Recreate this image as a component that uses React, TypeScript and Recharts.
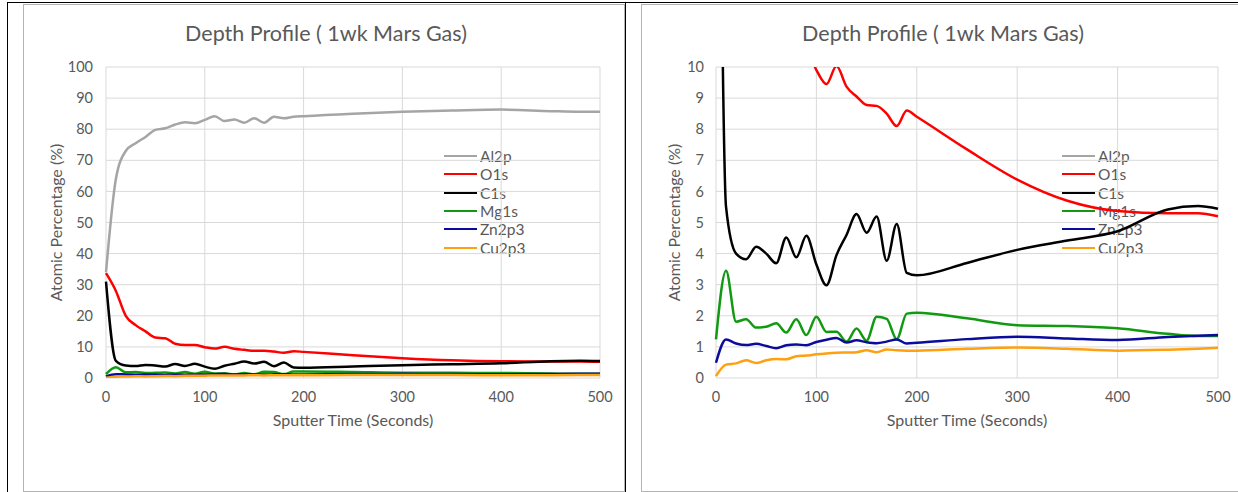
import React from 'react';
import { LineChart, Line, XAxis, YAxis, CartesianGrid, Legend } from 'recharts';

const FONT = 'Lato, "Open Sans", sans-serif';
const TEXT = '#595959';

const times = [0, 10, 20, 30, 40, 50, 60, 70, 80, 90, 100, 110, 120, 130, 140, 150, 160, 170, 180, 190, 200, 250, 300, 350, 400, 450, 480, 500];
const al2p = [34, 64, 73, 75.5, 77.5, 79.8, 80.3, 81.5, 82.2, 81.9, 83, 84.2, 82.6, 83.1, 82.1, 83.5, 82.1, 84, 83.5, 84, 84.2, 85, 85.6, 86, 86.3, 85.8, 85.6, 85.6];
const o1s = [33.7, 28, 20, 17, 15, 13, 12.8, 11, 10.6, 10.6, 9.9, 9.45, 10.03, 9.37, 9.05, 8.78, 8.75, 8.5, 8.1, 8.6, 8.4, 7.35, 6.38, 5.7, 5.37, 5.3, 5.3, 5.2];
const c1s = [31, 5.5, 4.0, 3.82, 4.22, 4.0, 3.69, 4.52, 3.88, 4.57, 3.65, 2.98, 3.95, 4.6, 5.27, 4.67, 5.19, 3.77, 4.95, 3.38, 3.3, 3.7, 4.12, 4.42, 4.72, 5.42, 5.53, 5.44];
const mg1s = [1.24, 3.45, 1.81, 1.89, 1.62, 1.65, 1.76, 1.46, 1.89, 1.38, 1.97, 1.48, 1.49, 1.17, 1.59, 1.2, 1.97, 1.9, 1.25, 2.07, 2.1, 1.92, 1.7, 1.67, 1.6, 1.42, 1.35, 1.35];
const zn2p3 = [0.49, 1.24, 1.11, 1.06, 1.1, 1.03, 0.96, 1.05, 1.08, 1.05, 1.16, 1.23, 1.29, 1.14, 1.21, 1.15, 1.12, 1.17, 1.24, 1.11, 1.13, 1.25, 1.33, 1.27, 1.22, 1.32, 1.36, 1.38];
const cu2p3 = [0.06, 0.43, 0.47, 0.57, 0.48, 0.57, 0.61, 0.6, 0.7, 0.72, 0.76, 0.79, 0.81, 0.82, 0.83, 0.89, 0.83, 0.92, 0.89, 0.88, 0.88, 0.94, 0.98, 0.94, 0.88, 0.91, 0.94, 0.97];

const seriesNames = ['Al2p', 'O1s', 'C1s', 'Mg1s', 'Zn2p3', 'Cu2p3'];
const seriesColors = ['#a5a5a5', '#ff0000', '#000000', '#119a11', '#0c0c9c', '#ffa010'];
const seriesValues = [al2p, o1s, c1s, mg1s, zn2p3, cu2p3];

const xTicks = [0, 100, 200, 300, 400, 500];
const leftYTicks = [0, 10, 20, 30, 40, 50, 60, 70, 80, 90, 100];
const rightYTicks = [0, 1, 2, 3, 4, 5, 6, 7, 8, 9, 10];

const titleText = 'Depth Profile ( 1wk Mars Gas)';
const xTitle = 'Sputter Time (Seconds)';
const yTitle = 'Atomic Percentage (%)';

const data = times.map((t, i) => {
  const row: Record<string, number> = { t };
  seriesNames.forEach((n, k) => {
    row[n] = seriesValues[k][i];
  });
  return row;
});

const LegendBox = () => (
  <div style={{ fontFamily: FONT, fontSize: 15.5, color: TEXT }}>
    {seriesNames.map((n, i) => (
      <div key={n} style={{ display: 'flex', alignItems: 'center', height: 18.3 }}>
        <div style={{ width: 33, height: 0, borderTop: `2.5px solid ${seriesColors[i]}`, marginRight: 3 }} />
        <span style={{ lineHeight: '18px' }}>{n}</span>
      </div>
    ))}
  </div>
);

type PanelProps = {
  left: number;
  width: number;
  yMax: number;
  yTicks: number[];
  marginLeft: number;
  marginRight: number;
  legendLeft: number;
  tickMargin: number;
  yLabelOffset: number;
};

const Panel = (p: PanelProps) => (
  <div style={{ position: 'absolute', left: p.left, top: 0, width: p.width, height: 492 }}>
    <LineChart
      width={p.width}
      height={492}
      data={data}
      margin={{ top: 67, right: p.marginRight, bottom: 84, left: p.marginLeft }}
      style={{ fontFamily: FONT }}
    >
      <CartesianGrid stroke="#d9d9d9" strokeWidth={1} />
      <XAxis
        type="number"
        dataKey="t"
        domain={[0, 500]}
        ticks={xTicks}
        interval={0}
        axisLine={false}
        tickLine={false}
        tickSize={0}
        tickMargin={14}
        height={30}
        tick={{ fill: TEXT, fontSize: 14.5, fontFamily: FONT }}
        label={{ value: xTitle, position: 'bottom', offset: 7, fill: TEXT, fontSize: 16, fontFamily: FONT }}
      />
      <YAxis
        type="number"
        domain={[0, p.yMax]}
        ticks={p.yTicks}
        interval={0}
        allowDataOverflow
        axisLine={false}
        tickLine={false}
        tickSize={0}
        tickMargin={p.tickMargin}
        width={60}
        tick={{ fill: TEXT, fontSize: 14.5, fontFamily: FONT }}
        label={{
          value: yTitle,
          angle: -90,
          position: 'insideLeft',
          offset: p.yLabelOffset,
          fill: TEXT,
          fontSize: 16,
          fontFamily: FONT,
          style: { textAnchor: 'middle' },
        }}
      />
      <Legend
        layout="vertical"
        align="center"
        verticalAlign="middle"
        wrapperStyle={{ left: p.legendLeft, top: 147, width: 120, height: 112, zIndex: -1 }}
        content={() => <LegendBox />}
      />
      {seriesNames.map((n, i) => (
        <Line
          key={n}
          type="monotone"
          dataKey={n}
          stroke={seriesColors[i]}
          strokeWidth={2.5}
          dot={false}
          activeDot={false}
          isAnimationActive={false}
        />
      ))}
    </LineChart>
  </div>
);

export default function App() {
  return (
    <div style={{ position: 'absolute', left: 0, top: 0, width: 1238, height: 492, overflow: 'hidden', background: 'transparent' }}>
      {/* table frame */}
      <div style={{ position: 'absolute', left: 7, top: 2, width: 1231, height: 1, background: '#000' }} />
      <div style={{ position: 'absolute', left: 7, top: 2, width: 1, height: 490, background: '#000' }} />
      <div style={{ position: 'absolute', left: 625, top: 2, width: 1, height: 490, background: '#000' }} />
      {/* chart borders */}
      <div style={{ position: 'absolute', left: 23, top: 4, width: 602, height: 488, border: '1px solid #b4b4b4', boxSizing: 'border-box' }} />
      <div style={{ position: 'absolute', left: 641, top: 4, width: 700, height: 488, border: '1px solid #b4b4b4', boxSizing: 'border-box' }} />
      {/* titles */}
      <div style={{ position: 'absolute', left: 23, top: 18, width: 606, textAlign: 'center', fontFamily: FONT, fontSize: 21.5, lineHeight: '30px', color: TEXT }}>{titleText}</div>
      <div style={{ position: 'absolute', left: 641, top: 18, width: 604, textAlign: 'center', fontFamily: FONT, fontSize: 21.5, lineHeight: '30px', color: TEXT }}>{titleText}</div>
      <Panel left={0} width={625} yMax={100} yTicks={leftYTicks} marginLeft={46} marginRight={25} legendLeft={444} tickMargin={13} yLabelOffset={10} />
      <Panel left={625} width={613} yMax={10} yTicks={rightYTicks} marginLeft={31} marginRight={20} legendLeft={437} tickMargin={12} yLabelOffset={18} />
    </div>
  );
}
